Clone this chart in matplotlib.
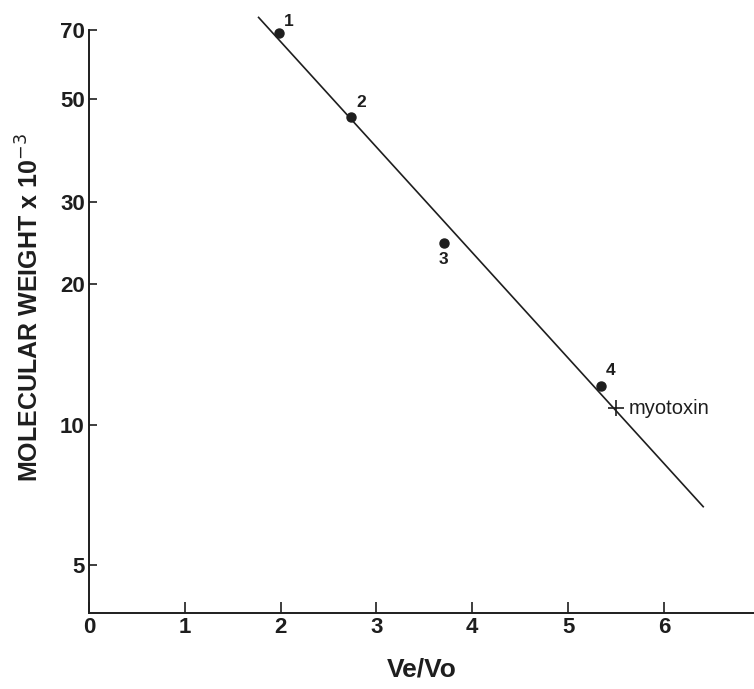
import matplotlib.pyplot as plt
import numpy as np

plt.rcParams['font.family'] = ['Liberation Sans', 'DejaVu Sans']

# standards (Ve/Vo, MW x 10^-3)
std_x = [1.98, 2.73, 3.71, 5.34]
std_y = [69.0, 45.6, 24.5, 12.1]
std_labels = ['1', '2', '3', '4']

# myotoxin point
tox_x = 5.50
tox_y = 10.85

# fitted calibration line end points
line_x = [1.77, 6.41]
line_y = [74.6, 6.68]

xticks = [0, 1, 2, 3, 4, 5, 6]
yticks = [5, 10, 20, 30, 50, 70]

ink = '#1e1e1e'

fig = plt.figure(figsize=(7.54, 6.89), dpi=100)
ax = fig.add_axes([0.118, 0.110, 0.882, 0.846])

ax.plot(line_x, line_y, color=ink, lw=1.2, clip_on=False)
ax.plot(std_x, std_y, 'o', color=ink, ms=6.5, clip_on=False)
ax.plot(tox_x, tox_y, '+', color=ink, ms=11, mew=1.2)

# point labels
offsets = [(4, 3), (4, 5), (-1, -6), (4, 6)]
for x, y, lab, (dx, dy) in zip(std_x, std_y, std_labels, offsets):
    ax.annotate(lab, (x, y), xytext=(dx, dy), textcoords='offset points',
                fontsize=12.5, fontweight='bold', color=ink,
                ha='left' if dx > 0 else 'center', va='bottom' if dy > 0 else 'top')
ax.annotate('myotoxin', (tox_x, tox_y), xytext=(9, 0), textcoords='offset points',
            fontsize=14.5, color=ink, ha='left', va='center')

ax.set_yscale('log')
ax.set_xlim(0, 6.94)
ax.set_ylim(3.95, 70)
ax.set_xticks(xticks)
ax.set_xticklabels([str(t) for t in xticks])
ax.set_yticks(yticks)
ax.set_yticklabels([str(t) for t in yticks])
ax.minorticks_off()

ax.spines['top'].set_visible(False)
ax.spines['right'].set_visible(False)
for s in ['left', 'bottom']:
    ax.spines[s].set_color(ink)
    ax.spines[s].set_linewidth(1.4)

ax.tick_params(axis='x', direction='in', length=8, width=1.2, colors=ink,
               labelsize=16, pad=3)
ax.tick_params(axis='y', direction='in', length=6, width=1.2, colors=ink,
               labelsize=16, pad=3)
for lab in ax.get_xticklabels() + ax.get_yticklabels():
    lab.set_fontweight('bold')

ax.set_xlabel('Ve/Vo', fontsize=19, fontweight='bold', color=ink, labelpad=14)
ax.set_ylabel(r'MOLECULAR WEIGHT x 10$^{-3}$', fontsize=18, fontweight='bold',
              color=ink)
ax.yaxis.set_label_coords(-0.068, 0.525)

fig.savefig('out.png', dpi=100)
